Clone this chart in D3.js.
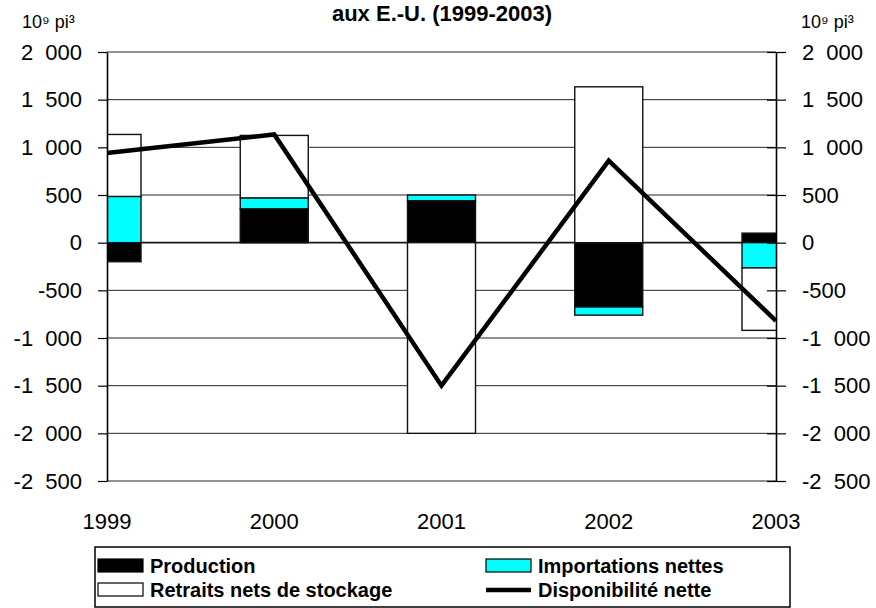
<!DOCTYPE html>
<html>
<head>
<meta charset="utf-8">
<script src="https://cdn.jsdelivr.net/npm/d3@7/dist/d3.min.js"></script>
<style>
  html, body { margin: 0; padding: 0; background: #fff; }
  svg { display: block; font-family: Arial, "Liberation Sans", sans-serif; }
</style>
</head>
<body>
<svg id="chart" width="876" height="608"></svg>
<script>
// Gas supply components by year (10^9 cubic feet)
const years = ["1999", "2000", "2001", "2002", "2003"];
const production = [-200, 355, 440, -675, 100];
const imports = [485, 115, 60, -85, -265];
const storage = [650, 655, -2000, 1635, -655];
const netSupply = [940, 1135, -1500, 860, -820];
const yTicks = [2000, 1500, 1000, 500, 0, -500, -1000, -1500, -2000, -2500];

const seriesKeys = ["production", "imports", "storage"];
const seriesNames = {
  production: "Production",
  imports: "Importations nettes",
  storage: "Retraits nets de stockage",
  net: "Disponibilité nette"
};
const fills = { production: "#000000", imports: "#00FFFF", storage: "#FFFFFF" };

const rows = years.map((y, i) => ({
  year: y,
  production: production[i],
  imports: imports[i],
  storage: storage[i]
}));

const svg = d3.select("#chart");
const plot = { left: 107, right: 776, top: 52, bottom: 481 };

const x = d3.scalePoint().domain(years).range([plot.left, plot.right]);
const y = d3.scaleLinear().domain([-2500, 2000]).range([plot.bottom, plot.top]);
const barW = 68;

// Thousands separated by a space
const fmt = v => {
  const s = Math.abs(v).toString();
  const body = s.length > 3 ? s.slice(0, s.length - 3) + " " + s.slice(-3) : s;
  return (v < 0 ? "-" : "") + body;
};

svg.append("defs").append("clipPath").attr("id", "plotClip")
  .append("rect")
  .attr("x", plot.left).attr("y", plot.top - 2)
  .attr("width", plot.right - plot.left).attr("height", plot.bottom - plot.top + 4);

// Horizontal gridlines
svg.append("g").selectAll("line").data(yTicks).join("line")
  .attr("x1", plot.left).attr("x2", plot.right)
  .attr("y1", d => y(d)).attr("y2", d => y(d))
  .attr("stroke", "#000")
  .attr("stroke-width", d => d === 0 ? 1.6 : 1)
  .attr("opacity", d => d === 0 ? 0.9 : 0.85);

// Stacked bars (positive values up from zero, negative down)
const stacked = d3.stack().keys(seriesKeys).offset(d3.stackOffsetDiverging)(rows);

const bars = svg.append("g").attr("clip-path", "url(#plotClip)");
bars.selectAll("g").data(stacked).join("g")
  .attr("fill", d => fills[d.key])
  .selectAll("rect").data(d => d).join("rect")
  .attr("x", d => x(d.data.year) - barW / 2)
  .attr("width", barW)
  .attr("y", d => y(Math.max(d[0], d[1])))
  .attr("height", d => Math.abs(y(d[0]) - y(d[1])))
  .attr("stroke", "#111")
  .attr("stroke-width", 1.4);

// Value axes on both sides
const leftAxis = d3.axisLeft(y).tickValues(yTicks).tickFormat(fmt).tickSizeInner(9).tickSizeOuter(0).tickPadding(16);
const rightAxis = d3.axisRight(y).tickValues(yTicks).tickFormat(fmt).tickSizeInner(10).tickSizeOuter(0).tickPadding(16);

const gl = svg.append("g").attr("transform", `translate(${plot.left},0)`).call(leftAxis);
const gr = svg.append("g").attr("transform", `translate(${plot.right},0)`).call(rightAxis);
[gl, gr].forEach(g => {
  g.select(".domain").attr("stroke", "#000").attr("stroke-width", 1.6);
  g.selectAll(".tick line").attr("stroke", "#000").attr("stroke-width", 1.2);
  g.selectAll(".tick text")
    .attr("font-size", 22).attr("fill", "#000")
    .style("word-spacing", "6px")
    .attr("font-family", "Arial, 'Liberation Sans', sans-serif");
});
// Right-axis ticks cross the axis line
gr.selectAll(".tick line").attr("x1", -9).attr("x2", 10);
gl.selectAll(".tick line").attr("x1", -9).attr("x2", 0);

// Category labels along the bottom
svg.append("g").selectAll("text").data(years).join("text")
  .attr("x", d => x(d)).attr("y", 529)
  .attr("text-anchor", "middle")
  .attr("font-size", 22)
  .text(d => d);

// Net supply line
const line = d3.line()
  .x((d, i) => x(years[i]))
  .y(d => y(d));
svg.append("path")
  .datum(netSupply)
  .attr("d", line)
  .attr("fill", "none")
  .attr("stroke", "#000")
  .attr("stroke-width", 4.5)
  .attr("stroke-linejoin", "miter");

// Units
svg.append("text").attr("x", 22).attr("y", 28).attr("font-size", 18).text("10⁹ pi³");
svg.append("text").attr("x", 801).attr("y", 28).attr("font-size", 18).text("10⁹ pi³");

// Title (second line)
svg.append("text")
  .attr("x", 442).attr("y", 21)
  .attr("text-anchor", "middle")
  .attr("font-size", 22).attr("font-weight", "bold")
  .text("aux E.-U. (1999-2003)");

// Legend
const lg = svg.append("g");
lg.append("rect")
  .attr("x", 95).attr("y", 547).attr("width", 695).attr("height", 60)
  .attr("fill", "#fff").attr("stroke", "#000").attr("stroke-width", 1.5);

const legendItems = [
  { key: "production", type: "rect", sx: 98, ty: 573 },
  { key: "imports", type: "rect", sx: 486, ty: 573 },
  { key: "storage", type: "rect", sx: 98, ty: 597 },
  { key: "net", type: "line", sx: 486, ty: 597 }
];
legendItems.forEach(it => {
  if (it.type === "rect") {
    lg.append("rect")
      .attr("x", it.sx).attr("y", it.ty - 14).attr("width", 45).attr("height", 13)
      .attr("fill", fills[it.key]).attr("stroke", "#000").attr("stroke-width", 1.2);
  } else {
    lg.append("line")
      .attr("x1", it.sx).attr("x2", it.sx + 45)
      .attr("y1", it.ty - 7).attr("y2", it.ty - 7)
      .attr("stroke", "#000").attr("stroke-width", 4.5);
  }
  lg.append("text")
    .attr("x", it.sx + 52).attr("y", it.ty)
    .attr("font-size", 20).attr("font-weight", "bold")
    .text(seriesNames[it.key]);
});
</script>
</body>
</html>
